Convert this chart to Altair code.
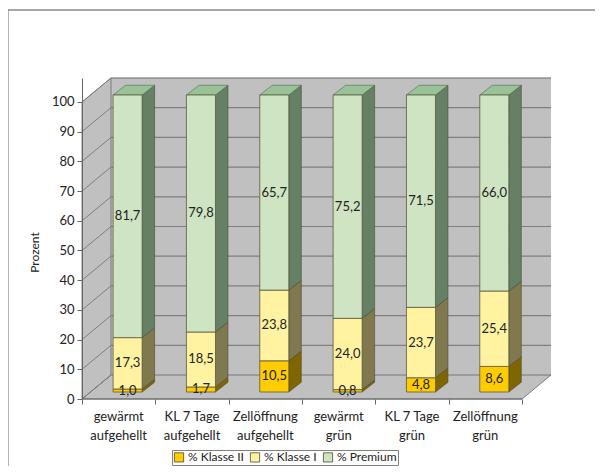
import altair as alt
import pandas as pd

categories = ["gewärmt\naufgehellt", "KL 7 Tage\naufgehellt", "Zellöffnung\naufgehellt",
              "gewärmt\ngrün", "KL 7 Tage\ngrün", "Zellöffnung\ngrün"]
klasse2 = [1.0, 1.7, 10.5, 0.8, 4.8, 8.6]
klasse1 = [17.3, 18.5, 23.8, 24.0, 23.7, 25.4]
premium = [81.7, 79.8, 65.7, 75.2, 71.5, 66.0]
series_names = ["% Klasse II", "% Klasse I", "% Premium"]
front_colors = ["#FFCC00", "#FFF2A0", "#CFE4C2"]
side_colors = ["#806600", "#80794F", "#668066"]
top_color = "#99C299"
ticks = list(range(0, 101, 10))

FONT = "Lato"
W, H = 469, 321
DX = 0.395   # depth of the chart box, in category units
DY = 8.08    # depth of the chart box, in percent units
BDX, BDY = 0.17, 3.27   # depth of a bar
OFFX, OFFY = 0.12, 2.36  # bar front face offset from box front
BAR_L, BAR_R = 0.304, 0.70

wall_c, grid_c, line_c = "#C0C0C0", "#7F7F7F", "#666666"

xs = alt.Scale(domain=[0, 6 + DX], range=[0, W], nice=False, zero=False)
ys = alt.Scale(domain=[0, 100 + DY], range=[H, 0], nice=False, zero=False)

y_ax = alt.Axis(
    values=ticks, title="Prozent", domain=True, domainColor=line_c, grid=False,
    tickColor=line_c, tickSize=5, labelFont=FONT, labelFontSize=13, labelColor="#222222",
    labelOverlap=False, labelPadding=3, titleFont=FONT, titleFontSize=12,
    titleFontWeight="normal", titleColor="#222222", titleX=-41, titleY=174,
    titleAngle=-90, zindex=1)
x_ax = alt.Axis(
    values=list(range(7)), title=None, labels=False, domain=False, grid=False,
    tickColor=line_c, tickSize=5, zindex=1)


def X(name, **kw):
    return alt.X(name, type="quantitative", scale=xs, axis=x_ax, **kw)


def Y(name, **kw):
    return alt.Y(name, type="quantitative", scale=ys, axis=y_ax, **kw)


front, side, top, labels = [], [], [], []
for i, cat in enumerate(categories):
    l, r = i + BAR_L + OFFX, i + BAR_R + OFFX
    base = 0.0
    for s, vals in enumerate([klasse2, klasse1, premium]):
        v = vals[i]
        y0, y1 = OFFY + base, OFFY + base + v
        front.append(dict(x=l, x2=r, y=y0, y2=y1, series=series_names[s]))
        pid = f"{i}-{s}"
        side.append(dict(id=pid, x=r, y=y0, y2=y1, fill=side_colors[s]))
        side.append(dict(id=pid, x=r + BDX, y=y0 + BDY, y2=y1 + BDY, fill=side_colors[s]))
        labels.append(dict(x=(l + r) / 2, y=(y0 + y1) / 2, t=f"{v:.1f}".replace(".", ",")))
        base += v
    top.append(dict(id=str(i), y=OFFY + base, x=l, x2=r))
    top.append(dict(id=str(i), y=OFFY + base + BDY, x=l + BDX, x2=r + BDX))

back = alt.Chart(pd.DataFrame([dict(x=DX, x2=6 + DX, y=DY, y2=100 + DY)])).mark_rect(
    fill=wall_c, stroke=None).encode(X("x"), x2="x2", y=Y("y"), y2="y2")

left = alt.Chart(pd.DataFrame([dict(x=0, y=0, y2=100), dict(x=DX, y=DY, y2=100 + DY)])).mark_area(
    fill=wall_c, stroke=line_c, strokeWidth=0.8).encode(X("x"), y=Y("y"), y2="y2")

floor = alt.Chart(pd.DataFrame([dict(y=0, x=0, x2=6), dict(y=DY, x=DX, x2=6 + DX)])).mark_area(
    orient="horizontal", fill=wall_c, stroke=line_c, strokeWidth=0.8).encode(
    y=Y("y"), x=X("x"), x2="x2")

back_top = alt.Chart(pd.DataFrame([dict(x=DX, x2=6 + DX, y=100 + DY)])).mark_rule(
    color=line_c, strokeWidth=1).encode(X("x"), x2="x2", y=Y("y"))

grid_back = alt.Chart(pd.DataFrame([dict(x=DX, x2=6 + DX, y=t + DY) for t in ticks[1:-1]])).mark_rule(
    color=grid_c, strokeWidth=1.2).encode(X("x"), x2="x2", y=Y("y"))

grid_left = alt.Chart(pd.DataFrame([dict(x=0, x2=DX, y=t, y2=t + DY) for t in ticks])).mark_rule(
    color=grid_c, strokeWidth=1).encode(X("x"), x2="x2", y=Y("y"), y2="y2")

axis_lines = alt.Chart(pd.DataFrame([dict(x=0, x2=6, y=0)])).mark_rule(
    color=line_c, strokeWidth=1).encode(X("x"), x2="x2", y=Y("y"))

sides = alt.Chart(pd.DataFrame(side)).mark_area(stroke="#4A4A30", strokeWidth=0.6).encode(
    X("x"), y=Y("y"), y2="y2", detail="id:N", fill=alt.Fill("fill:N", scale=None))

tops = alt.Chart(pd.DataFrame(top)).mark_area(
    orient="horizontal", fill=top_color, stroke="#4F6B4F", strokeWidth=0.6).encode(
    y=Y("y"), x=X("x"), x2="x2", detail="id:N")

fronts = alt.Chart(pd.DataFrame(front)).mark_rect(stroke="#5A5A3C", strokeWidth=0.8).encode(
    X("x"), x2="x2", y=Y("y"), y2="y2",
    fill=alt.Fill("series:N", scale=alt.Scale(domain=series_names, range=front_colors),
                  legend=alt.Legend(
                      title=None, orient="none", legendX=90, legendY=372, direction="horizontal",
                      columns=3, columnPadding=4, symbolType="square", symbolSize=85,
                      symbolStrokeColor="#666666", symbolStrokeWidth=0.8,
                      labelFont=FONT, labelFontSize=12, labelColor="#222222", labelOffset=3,
                      strokeColor="#808080", padding=1, fillColor="white")))

value_labels = alt.Chart(pd.DataFrame(labels)).mark_text(
    font=FONT, fontSize=13, color="#222222").encode(X("x"), Y("y"), text="t:N")

cat_labels = alt.Chart(pd.DataFrame(dict(x=[i + 0.5 for i in range(6)], t=categories))).mark_text(
    font=FONT, fontSize=13, color="#222222", lineBreak="\n", lineHeight=19, baseline="top").encode(
    X("x"), y=alt.value(333), text="t:N")

frame_top = alt.Chart(pd.DataFrame(dict(a=[0]))).mark_rule(color="#8A8A8A", strokeWidth=1.3).encode(
    x=alt.value(-74), x2=alt.value(513), y=alt.value(-68))
frame_left = alt.Chart(pd.DataFrame(dict(a=[0]))).mark_rule(color="#8A8A8A", strokeWidth=1.3).encode(
    x=alt.value(-74), y=alt.value(-68), y2=alt.value(388))

chart = alt.layer(
    back, frame_top, frame_left, floor, left, grid_back, grid_left, back_top, axis_lines,
    sides, tops, fronts, value_labels, cat_labels
).properties(
    width=W, height=H, autosize=alt.AutoSizeParams(type="none"),
    padding={"left": 74, "top": 70, "right": 44, "bottom": 67},
).configure_view(stroke=None)

chart.save("out.html", embed_options={"renderer": "svg", "actions": False})
